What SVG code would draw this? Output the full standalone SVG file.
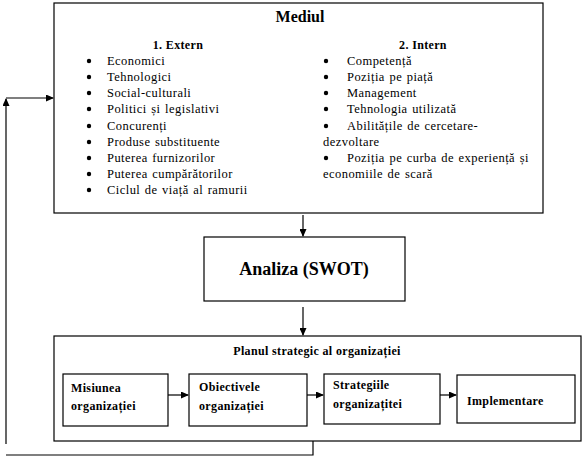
<svg xmlns="http://www.w3.org/2000/svg" width="584" height="456" viewBox="0 0 584 456" font-family="'Liberation Serif', 'DejaVu Serif', serif">
<style>
.box{fill:#fff;stroke:#000;stroke-width:1.2}
.ln{fill:none;stroke:#000;stroke-width:1.2}
text{fill:#000}
.it{font-size:12.5px;letter-spacing:0.45px;word-spacing:1px}
.b{font-weight:bold;font-size:12px;letter-spacing:0.35px}
.t{font-weight:bold;font-size:16px}
.bul{fill:#000}
</style>
<defs>
<marker id="ah" markerWidth="8" markerHeight="7" refX="7" refY="3.5" orient="auto" markerUnits="userSpaceOnUse">
<path d="M0,0 L8,3.5 L0,7 Z" fill="#000"/>
</marker>
</defs>
<rect width="584" height="456" fill="#fff"/>
<g id="mediul">
<rect class="box" x="54" y="3" width="489" height="210"/>
<text class="t" x="300" y="22" text-anchor="middle">Mediul</text>
<text class="b" x="178" y="49" text-anchor="middle">1. Extern</text>
<text class="b" x="423" y="49" text-anchor="middle">2. Intern</text>
<g class="bul">
<circle cx="89" cy="61" r="2.2"/><circle cx="89" cy="77" r="2.2"/><circle cx="89" cy="93" r="2.2"/>
<circle cx="89" cy="109" r="2.2"/><circle cx="89" cy="126" r="2.2"/><circle cx="89" cy="142" r="2.2"/>
<circle cx="89" cy="158" r="2.2"/><circle cx="89" cy="174" r="2.2"/><circle cx="89" cy="190" r="2.2"/>
<circle cx="326" cy="61" r="2.2"/><circle cx="326" cy="77" r="2.2"/><circle cx="326" cy="93" r="2.2"/>
<circle cx="326" cy="109" r="2.2"/><circle cx="326" cy="126" r="2.2"/><circle cx="326" cy="158" r="2.2"/>
</g>
<text class="it" x="107" y="65">Economici</text>
<text class="it" x="107" y="81">Tehnologici</text>
<text class="it" x="107" y="97">Social-culturali</text>
<text class="it" x="107" y="113">Politici și legislativi</text>
<text class="it" x="107" y="130">Concurenți</text>
<text class="it" x="107" y="146">Produse substituente</text>
<text class="it" x="107" y="162">Puterea furnizorilor</text>
<text class="it" x="107" y="178">Puterea cumpărătorilor</text>
<text class="it" x="107" y="194">Ciclul de viață al ramurii</text>
<text class="it" x="347" y="65">Competență</text>
<text class="it" x="347" y="81">Poziția pe piață</text>
<text class="it" x="347" y="97">Management</text>
<text class="it" x="347" y="113">Tehnologia utilizată</text>
<text class="it" x="347" y="130">Abilitățile de cercetare-</text>
<text class="it" x="323" y="146">dezvoltare</text>
<text class="it" x="347" y="162">Poziția pe curba de experiență și</text>
<text class="it" x="323" y="178">economiile de scară</text>
</g>
<g id="analiza">
<rect class="box" x="204" y="237" width="201" height="64"/>
<text x="304" y="275" text-anchor="middle" font-weight="bold" font-size="18px">Analiza (SWOT)</text>
</g>
<g id="plan">
<rect class="box" x="54" y="336" width="527" height="105"/>
<text class="b" x="317" y="355" text-anchor="middle">Planul strategic al organizației</text>
</g>
<g id="misiunea">
<rect class="box" x="63" y="374" width="105" height="52"/>
<text class="b" x="71" y="392">Misiunea</text>
<text class="b" x="71" y="410">organizației</text>
</g>
<g id="obiectivele">
<rect class="box" x="189" y="374" width="118" height="52"/>
<text class="b" x="199" y="391">Obiectivele</text>
<text class="b" x="199" y="410">organizației</text>
</g>
<g id="strategiile">
<rect class="box" x="324" y="374" width="116" height="50"/>
<text class="b" x="333" y="389">Strategiile</text>
<text class="b" x="333" y="408">organizațitei</text>
</g>
<g id="implementare">
<rect class="box" x="457" y="375" width="118" height="48"/>
<text class="b" x="467" y="405">Implementare</text>
</g>
<g id="connectors">
<line class="ln" x1="303" y1="215" x2="303" y2="236" marker-end="url(#ah)"/>
<line class="ln" x1="303" y1="307" x2="303" y2="335" marker-end="url(#ah)"/>
<line class="ln" x1="168" y1="395" x2="188" y2="395" marker-end="url(#ah)"/>
<line class="ln" x1="307" y1="395" x2="323" y2="395" marker-end="url(#ah)"/>
<line class="ln" x1="440" y1="395" x2="456" y2="395" marker-end="url(#ah)"/>
<line class="ln" x1="6" y1="444" x2="6" y2="99" marker-end="url(#ah)"/>
<line class="ln" x1="6" y1="98" x2="53" y2="98" marker-end="url(#ah)"/>
<polyline class="ln" points="6,455 313,455 313,441"/>
</g>
</svg>
